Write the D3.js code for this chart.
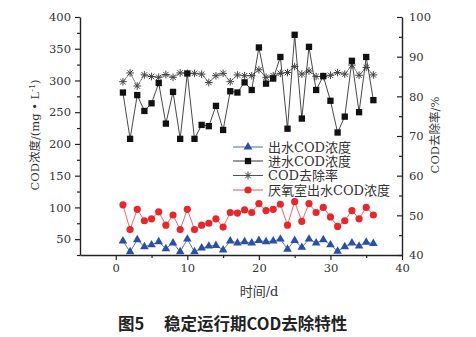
<!DOCTYPE html>
<html>
<head>
<meta charset="utf-8">
<script src="https://cdn.jsdelivr.net/npm/d3@7"></script>
<style>
html,body{margin:0;padding:0;background:#fff;}
svg{display:block;}
</style>
</head>
<body>
<svg id="chart" width="476" height="337"></svg>
<script>
// ---- data ----
const days = [1,2,3,4,5,6,7,8,9,10,11,12,13,14,15,16,17,18,19,20,21,22,23,24,25,26,27,28,29,30,31,32,33,34,35,36];
const effluent = [47,30,49,38,41,46,35,44,30,50,30,36,39,40,33,47,44,46,44,48,46,47,50,34,48,37,50,44,49,41,31,38,44,39,45,43];
const influent = [281,208,277,252,264,296,232,282,208,311,208,230,228,260,222,283,281,297,285,352,295,303,337,224,372,240,353,285,307,268,218,243,331,250,337,269];
const removal = [83.7,85.9,82.6,85.4,85.0,84.8,85.5,84.8,85.9,85.8,85.8,85.6,83.5,85.2,85.8,83.7,85.4,85.2,85.2,86.7,84.8,85.2,85.8,86.0,87.5,85.6,86.4,85.0,85.0,85.3,86.0,85.6,87.9,85.3,87.3,85.4];
const anaerobic = [104,65,97,79,82,93,72,88,65,97,65,72,75,82,69,92,91,96,92,106,95,97,105,72,109,78,106,92,100,85,70,79,95,82,100,88];

const xTicks = [0,10,20,30,40];
const xMinor = [5,15,25,35];
const yLTicks = [50,100,150,200,250,300,350,400];
const yLMinor = [25,75,125,175,225,275,325,375];
const yRTicks = [40,50,60,70,80,90,100];
const yRMinor = [45,55,65,75,85,95];
const legendLabels = ["出水COD浓度","进水COD浓度","COD去除率","厌氧室出水COD浓度"];
const xTitle = "时间/d";
const yLTitle = "COD浓度/(mg • L";
const yRTitle = "COD去除率/%";
const captionA = "图5";
const captionB = "稳定运行期COD去除特性";

// ---- drawing ----
const svg = d3.select("#chart");
svg.append("rect").attr("width",476).attr("height",337).attr("fill","#fff");

const x = d3.scaleLinear().domain([-5,40]).range([80,402]);
const yL = d3.scaleLinear().domain([25,400]).range([255,17]);
const yR = d3.scaleLinear().domain([40,100]).range([255,17]);

const tickFont = "'DejaVu Serif','Noto Sans CJK SC',serif";
const axisColor = "#222";
const blue = "#2a4fa3", red = "#e8272c", black = "#111", gray = "#444";

function styleAxis(g){
  g.selectAll("path.domain").attr("stroke",axisColor).attr("stroke-width",1.4);
  g.selectAll(".tick line").attr("stroke",axisColor).attr("stroke-width",1.2);
  g.selectAll(".tick text").attr("fill","#333").style("font-family",tickFont).style("font-size","11.5px");
}

// bottom axis
const gx = svg.append("g").attr("transform","translate(0,255)")
  .call(d3.axisBottom(x).tickValues(xTicks).tickSizeInner(5).tickSizeOuter(0).tickPadding(4).tickFormat(d3.format("d")));
styleAxis(gx);
const gxm = svg.append("g").attr("transform","translate(0,255)")
  .call(d3.axisBottom(x).tickValues(xMinor).tickSizeInner(3).tickSizeOuter(0).tickFormat(""));
gxm.select("path.domain").remove();
styleAxis(gxm);

// left axis
const gl = svg.append("g").attr("transform","translate(80,0)")
  .call(d3.axisLeft(yL).tickValues(yLTicks).tickSizeInner(5).tickSizeOuter(0).tickPadding(4));
styleAxis(gl);
const glm = svg.append("g").attr("transform","translate(80,0)")
  .call(d3.axisLeft(yL).tickValues(yLMinor).tickSizeInner(3).tickSizeOuter(0).tickFormat(""));
glm.select("path.domain").remove();
styleAxis(glm);

// right axis (ticks inward)
const gr = svg.append("g").attr("transform","translate(402,0)")
  .call(d3.axisRight(yR).tickValues(yRTicks).tickSizeInner(-5).tickSizeOuter(0).tickPadding(7));
styleAxis(gr);
const grm = svg.append("g").attr("transform","translate(402,0)")
  .call(d3.axisRight(yR).tickValues(yRMinor).tickSizeInner(-3).tickSizeOuter(0).tickFormat(""));
grm.select("path.domain").remove();
styleAxis(grm);

// titles
svg.append("text").attr("transform","translate(39,135) rotate(-90)")
  .attr("text-anchor","middle").attr("fill","#333")
  .style("font-family",tickFont).style("font-size","11.5px")
  .call(t=>{
    t.append("tspan").text(yLTitle);
    t.append("tspan").attr("dy",-4).style("font-size","8px").text("-1");
    t.append("tspan").attr("dy",4).text(")");
  });
svg.append("text").attr("transform","translate(439,135) rotate(-90)")
  .attr("text-anchor","middle").attr("fill","#333")
  .style("font-family",tickFont).style("font-size","11.5px").text(yRTitle);
svg.append("text").attr("x",259).attr("y",296).attr("text-anchor","middle").attr("fill","#333")
  .style("font-family",tickFont).style("font-size","13px").text(xTitle);

// caption
svg.append("text").attr("x",118).attr("y",330).attr("fill","#222")
  .style("font-family","'Noto Sans CJK SC',sans-serif").style("font-weight","bold").style("font-size","16.5px").text(captionA);
svg.append("text").attr("x",164).attr("y",330).attr("fill","#222")
  .style("font-family","'Noto Sans CJK SC',sans-serif").style("font-weight","bold").style("font-size","16.5px").text(captionB);

// marker helpers
function starPath(cx,cy,r){
  const a = r*0.707;
  return `M${cx-r},${cy}L${cx+r},${cy}M${cx},${cy-r}L${cx},${cy+r}M${cx-a},${cy-a}L${cx+a},${cy+a}M${cx-a},${cy+a}L${cx+a},${cy-a}`;
}
const tri = d3.symbol().type(d3.symbolTriangle).size(32);
const sq = d3.symbol().type(d3.symbolSquare).size(40);

const plot = svg.append("g");

function drawSeries(vals, yScale, color, lineColor, kind){
  const line = d3.line().x((d,i)=>x(days[i])).y(d=>yScale(d));
  plot.append("path").datum(vals).attr("d",line).attr("fill","none")
    .attr("stroke",lineColor).attr("stroke-width",0.9);
  const g = plot.append("g");
  vals.forEach((v,i)=>{
    const cx = x(days[i]), cy = yScale(v);
    drawMarker(g,kind,cx,cy,color);
  });
}
function drawMarker(g,kind,cx,cy,color){
  if(kind==="tri"){
    g.append("path").attr("d",tri).attr("transform",`translate(${cx},${cy})`).attr("fill",color);
  } else if(kind==="sq"){
    g.append("path").attr("d",sq).attr("transform",`translate(${cx},${cy})`).attr("fill",color);
  } else if(kind==="circle"){
    g.append("circle").attr("cx",cx).attr("cy",cy).attr("r",3.6).attr("fill",color);
  } else if(kind==="star"){
    g.append("path").attr("d",starPath(cx,cy,3.8)).attr("stroke",color).attr("stroke-width",1).attr("fill","none");
  }
}

drawSeries(anaerobic, yL, red, "#e8575a", "circle");
drawSeries(effluent, yL, blue, "#4a6bb5", "tri");
drawSeries(removal, yR, gray, "#777", "star");
drawSeries(influent, yL, black, "#333", "sq");

// legend
const legendKinds = [["tri",blue,"#4a6bb5"],["sq",black,"#333"],["star",gray,"#555"],["circle",red,"#e8575a"]];
const legendY = [147,161,175.5,190];
const lg = svg.append("g");
legendLabels.forEach((lab,i)=>{
  const yy = legendY[i];
  lg.append("line").attr("x1",233).attr("x2",263).attr("y1",yy).attr("y2",yy)
    .attr("stroke",legendKinds[i][2]).attr("stroke-width",1);
  drawMarker(lg,legendKinds[i][0],248,yy,legendKinds[i][1]);
  lg.append("text").attr("x",268).attr("y",yy+4.5).attr("fill","#333")
    .style("font-family",tickFont).style("font-size","13px").text(lab);
});
</script>
</body>
</html>
